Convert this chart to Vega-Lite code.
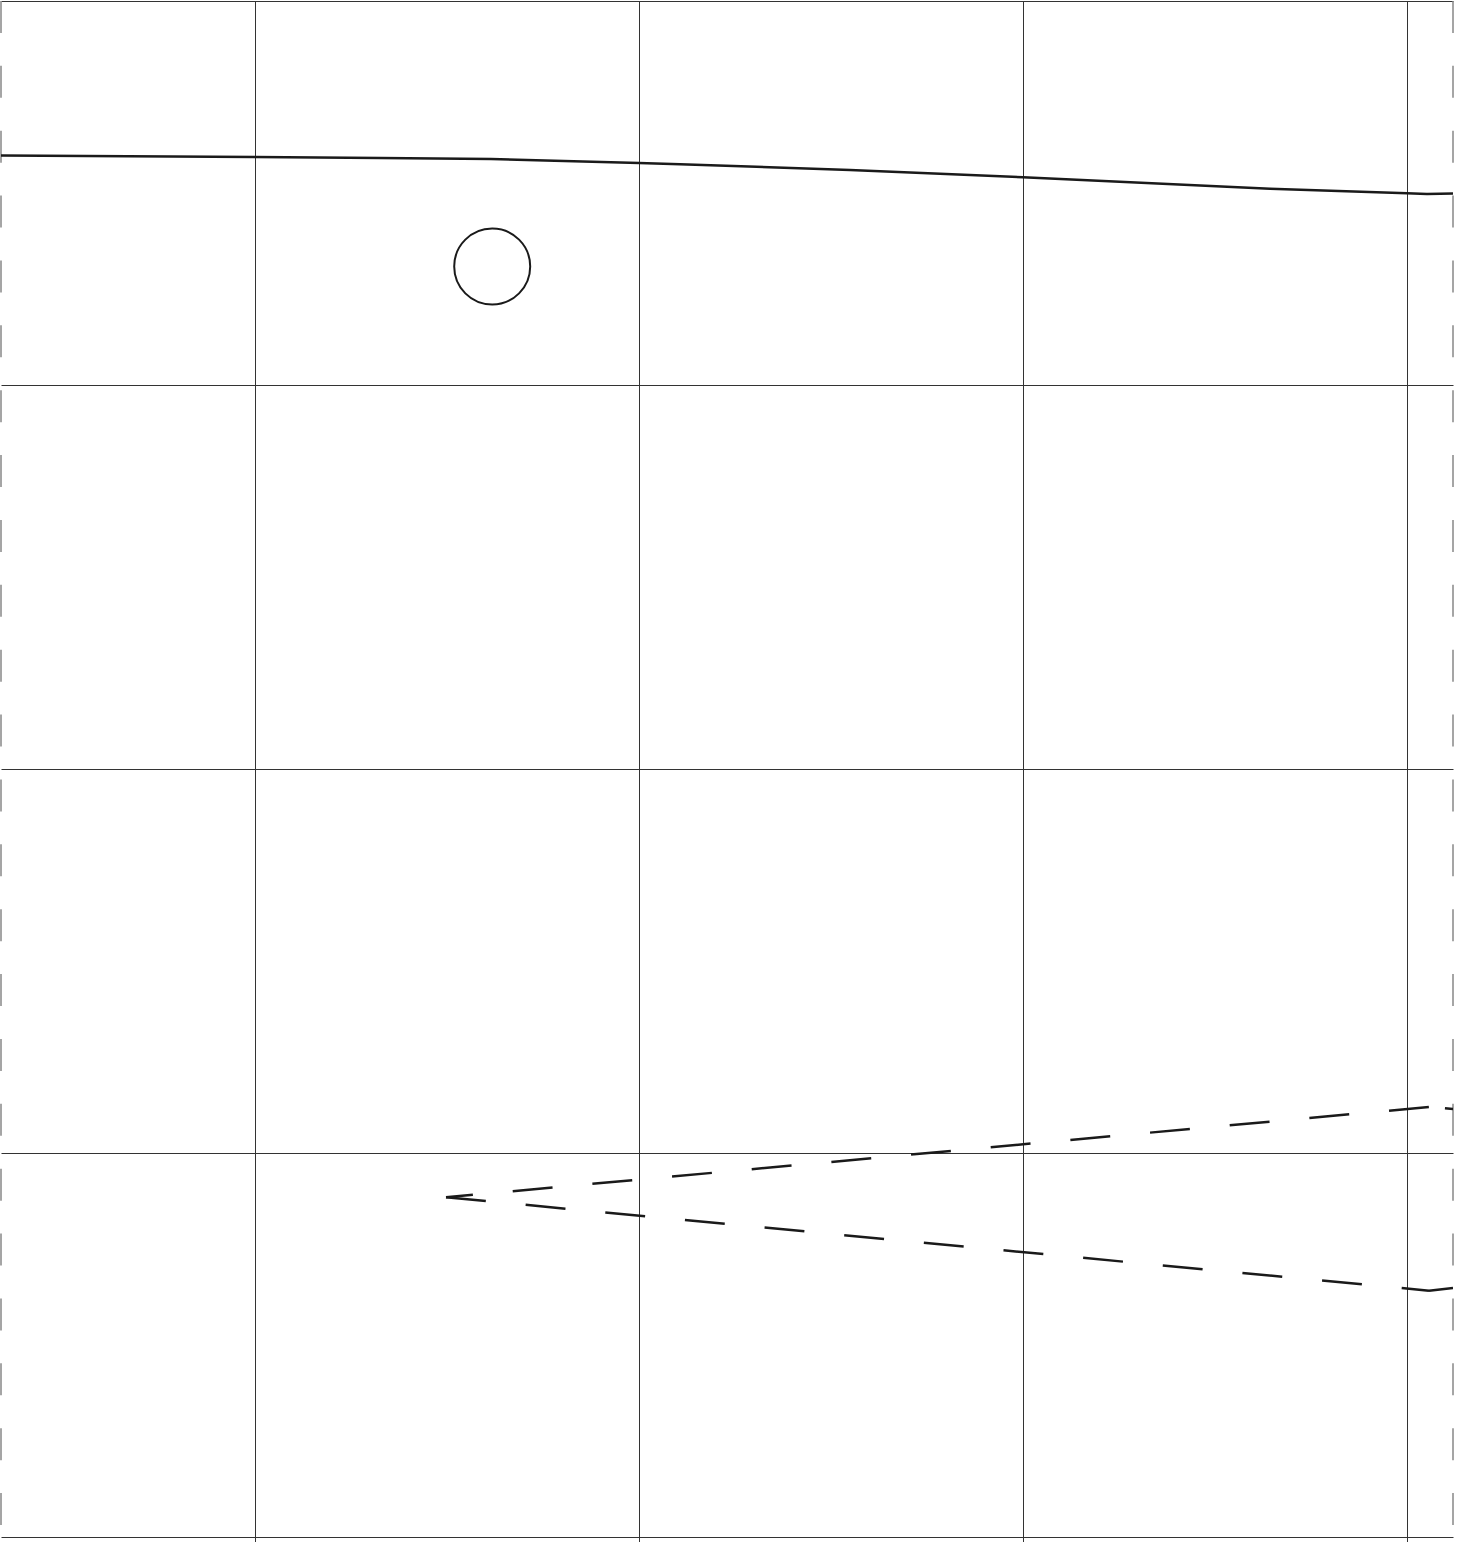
{
  "$schema": "https://vega.github.io/schema/vega-lite/v6.json",
  "width": 1452,
  "height": 1536,
  "padding": {"left": 1, "top": 1, "right": 8, "bottom": 5},
  "autosize": {"type": "none"},
  "background": "white",
  "config": {
    "view": {"stroke": null},
    "axis": {"grid": true, "labels": false, "ticks": false, "domain": false, "gridColor": "#333333", "gridWidth": 1, "gridOpacity": 1},
    "axisX": {"ticks": true, "tickSize": 5, "tickColor": "#333333", "tickWidth": 1}
  },
  "datasets": {
    "edges": [{"x": 0}, {"x": 1452}],
    "solid": [
      {"x": 0, "y": 1381.5}, {"x": 254, "y": 1380}, {"x": 379, "y": 1379}, {"x": 490, "y": 1378},
      {"x": 638, "y": 1374}, {"x": 679, "y": 1372.7}, {"x": 849, "y": 1367}, {"x": 1022, "y": 1359.7},
      {"x": 1269, "y": 1348.2}, {"x": 1406, "y": 1343.7}, {"x": 1426, "y": 1343}, {"x": 1452, "y": 1343.5}
    ],
    "upper": [{"x": 445, "y": 339.7}, {"x": 1428, "y": 430}],
    "upperTail": [{"x": 1428, "y": 430}, {"x": 1452, "y": 428}],
    "lower": [{"x": 445, "y": 339.7}, {"x": 1428, "y": 246.3}],
    "lowerTail": [{"x": 1428, "y": 246.3}, {"x": 1452, "y": 249}],
    "circle": [{"x": 491.2, "y": 1270.5}]
  },
  "layer": [
    {
      "data": {"name": "edges"},
      "mark": {"type": "rule", "color": "#888888", "strokeWidth": 1.5, "strokeDash": [32, 32.87]},
      "encoding": {
        "x": {"field": "x", "type": "quantitative", "scale": {"domain": [0, 1452], "nice": false, "zero": false}, "axis": {"values": [254, 638, 1022, 1406]}, "title": null},
        "y": {"datum": 1536, "type": "quantitative", "scale": {"domain": [0, 1536], "nice": false, "zero": false}, "axis": {"values": [0, 384, 768, 1152, 1536]}, "title": null},
        "y2": {"datum": 0}
      }
    },
    {
      "data": {"name": "solid"},
      "mark": {"type": "line", "color": "#1a1a1a", "strokeWidth": 2.5, "clip": true},
      "encoding": {
        "x": {"field": "x", "type": "quantitative", "title": null},
        "y": {"field": "y", "type": "quantitative", "title": null}
      }
    },
    {
      "data": {"name": "upper"},
      "mark": {"type": "line", "color": "#1a1a1a", "strokeWidth": 2.5, "strokeDash": [40, 40], "strokeDashOffset": 13, "clip": true},
      "encoding": {
        "x": {"field": "x", "type": "quantitative", "title": null},
        "y": {"field": "y", "type": "quantitative", "title": null}
      }
    },
    {
      "data": {"name": "upperTail"},
      "mark": {"type": "line", "color": "#1a1a1a", "strokeWidth": 2.5, "strokeDash": [40, 40], "strokeDashOffset": 64, "clip": true},
      "encoding": {
        "x": {"field": "x", "type": "quantitative", "title": null},
        "y": {"field": "y", "type": "quantitative", "title": null}
      }
    },
    {
      "data": {"name": "lower"},
      "mark": {"type": "line", "color": "#1a1a1a", "strokeWidth": 2.5, "strokeDash": [40, 40], "clip": true},
      "encoding": {
        "x": {"field": "x", "type": "quantitative", "title": null},
        "y": {"field": "y", "type": "quantitative", "title": null}
      }
    },
    {
      "data": {"name": "lowerTail"},
      "mark": {"type": "line", "color": "#1a1a1a", "strokeWidth": 2.5, "clip": true},
      "encoding": {
        "x": {"field": "x", "type": "quantitative", "title": null},
        "y": {"field": "y", "type": "quantitative", "title": null}
      }
    },
    {
      "data": {"name": "circle"},
      "mark": {"type": "point", "shape": "circle", "filled": false, "size": 5776, "stroke": "#1a1a1a", "strokeWidth": 2, "opacity": 1},
      "encoding": {
        "x": {"field": "x", "type": "quantitative", "title": null},
        "y": {"field": "y", "type": "quantitative", "title": null}
      }
    }
  ]
}
